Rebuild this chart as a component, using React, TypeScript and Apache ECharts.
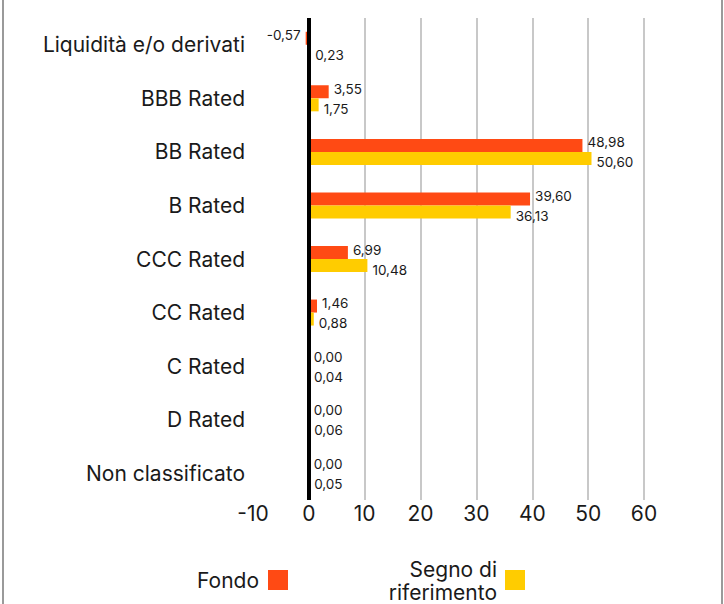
import React, { useEffect, useRef } from "react";
import * as echarts from "echarts";

const categories = [
  "Liquidità e/o derivati",
  "BBB Rated",
  "BB Rated",
  "B Rated",
  "CCC Rated",
  "CC Rated",
  "C Rated",
  "D Rated",
  "Non classificato",
];
const fondo = [-0.57, 3.55, 48.98, 39.6, 6.99, 1.46, 0.0, 0.0, 0.0];
const benchmark = [0.23, 1.75, 50.6, 36.13, 10.48, 0.88, 0.04, 0.06, 0.05];
const seriesNames = ["Fondo", "Segno di\nriferimento"];
const xMin = -10;
const xMax = 60;
const xStep = 10;

const FONT = "Inter";
const fmt = (v: number) => v.toFixed(2).replace(".", ",");

export default function App() {
  const ref = useRef<HTMLDivElement>(null);
  useEffect(() => {
    document.body.style.margin = "0";
    const chart = echarts.init(ref.current!, null, { renderer: "svg" });
    chart.setOption({
      animation: false,
      textStyle: { fontFamily: FONT },
      grid: { left: 253, right: 80, top: 18, bottom: 104, containLabel: false },
      xAxis: {
        type: "value",
        min: xMin,
        max: xMax,
        interval: xStep,
        axisLine: { show: false },
        axisTick: { show: false },
        axisLabel: { color: "#1a1a1a", fontSize: 21, fontFamily: FONT, margin: 3 },
        splitLine: { show: true, showMinLine: false, lineStyle: { color: "#c8c8c8", width: 2 } },
      },
      yAxis: {
        type: "category",
        data: categories,
        inverse: true,
        axisLine: { show: false },
        axisTick: { show: false },
        axisLabel: { color: "#1a1a1a", fontSize: 21, fontFamily: FONT, margin: 8 },
      },
      series: [
        {
          name: seriesNames[0],
          type: "bar",
          data: fondo.map((v) => ({
            value: v,
            label: v < 0 ? { position: "left", offset: [0, -3] } : undefined,
          })),
          barWidth: 13,
          barGap: "0%",
          itemStyle: { color: "#ff4a14" },
          label: {
            show: true,
            position: "right",
            offset: [0, -3],
            distance: 5,
            color: "#1a1a1a",
            fontSize: 13.5,
            fontFamily: FONT,
            formatter: (p: any) => fmt(p.value),
          },
          markLine: {
            silent: true,
            symbol: "none",
            label: { show: false },
            lineStyle: { color: "#000", width: 4, type: "solid" },
            data: [{ xAxis: 0 }],
            z: 10,
          },
        },
        {
          name: seriesNames[1],
          type: "bar",
          data: benchmark,
          barWidth: 13,
          barGap: "0%",
          itemStyle: { color: "#ffcc00" },
          label: {
            show: true,
            position: "right",
            offset: [0, 4],
            distance: 5,
            color: "#1a1a1a",
            fontSize: 13.5,
            fontFamily: FONT,
            formatter: (p: any) => fmt(p.value),
          },
        },
      ],
      graphic: [
        { type: "line", shape: { x1: 3, y1: 0, x2: 3, y2: 604 }, style: { stroke: "#9a9a9a", lineWidth: 2 } },
        { type: "line", shape: { x1: 722, y1: 0, x2: 722, y2: 604 }, style: { stroke: "#9a9a9a", lineWidth: 2 } },
        {
          type: "text",
          x: 259,
          y: 580,
          style: { text: seriesNames[0], fill: "#1a1a1a", font: `21px ${FONT}`, textAlign: "right", textVerticalAlign: "middle" },
        },
        { type: "rect", shape: { x: 268, y: 570, width: 20, height: 20 }, style: { fill: "#ff4a14" } },
        {
          type: "text",
          x: 497,
          y: 581,
          style: {
            text: seriesNames[1],
            fill: "#1a1a1a",
            font: `21px ${FONT}`,
            lineHeight: 23,
            textAlign: "right",
            textVerticalAlign: "middle",
          },
        },
        { type: "rect", shape: { x: 505, y: 570, width: 20, height: 20 }, style: { fill: "#ffcc00" } },
      ],
    });
    return () => chart.dispose();
  }, []);
  return <div ref={ref} style={{ width: 724, height: 604 }} />;
}
